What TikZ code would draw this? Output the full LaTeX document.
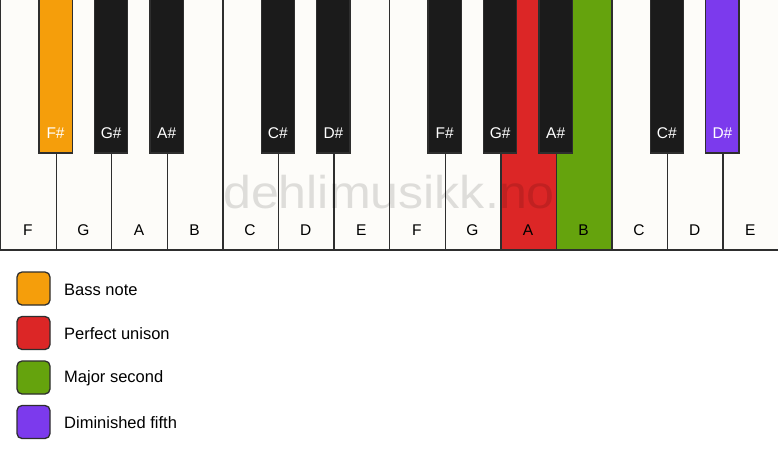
\documentclass[tikz,border=0pt]{standalone}
\usepackage{fontspec}
\setmainfont{Liberation Sans}
\definecolor{keywhite}{HTML}{FDFCF9}
\definecolor{keyblack}{HTML}{1B1B1B}
\definecolor{keyline}{HTML}{2E2E2E}
\definecolor{cbass}{HTML}{F59E0B}
\definecolor{cuni}{HTML}{DC2626}
\definecolor{csec}{HTML}{65A30D}
\definecolor{cfifth}{HTML}{7C3AED}
\tikzset{
  whitekey/.style={draw=keyline, line width=1.3pt, fill=keywhite},
  blackkey/.style={draw=keyline, line width=1.3pt, fill=keyblack},
  wlabel/.style={font=\fontsize{15.5}{15.5}\selectfont, text=black, inner sep=0pt},
  blabel/.style={font=\fontsize{15.5}{15.5}\selectfont, text=white, inner sep=0pt},
  legbox/.style={draw=keyline, line width=1.3pt, rounded corners=5pt, minimum width=33pt, minimum height=33pt, inner sep=0pt},
  legtext/.style={font=\fontsize{16.5}{16.5}\selectfont, anchor=west, inner sep=0pt},
}
\begin{document}
\begin{tikzpicture}[x=1pt,y=-1pt]
\useasboundingbox (0,0) rectangle (778,461);
\fill[white] (0,0) rectangle (778,461);
\def\w{55.5714}
% white keys
\foreach \i/\n/\c in {0/F/keywhite,1/G/keywhite,2/A/keywhite,3/B/keywhite,4/C/keywhite,5/D/keywhite,6/E/keywhite,7/F/keywhite,8/G/keywhite,9/A/cuni,10/B/csec,11/C/keywhite,12/D/keywhite,13/E/keywhite}{
  \path[whitekey, fill=\c] ({\i*\w+0.7},-1) rectangle ({(\i+1)*\w+0.7},250);
  \node[wlabel] (w\i) at ({(\i+0.5)*\w},230) {\n};
}
% watermark
\node[font=\fontsize{46}{46}\selectfont, text=black, text opacity=0.12, inner sep=0pt, anchor=base, xscale=1.09] (wm) at (389,208) {dehlimusikk.no};
% black keys
\foreach \b/\n/\c in {1/F\#/cbass,2/G\#/keyblack,3/A\#/keyblack,5/C\#/keyblack,6/D\#/keyblack,8/F\#/keyblack,9/G\#/keyblack,10/A\#/keyblack,12/C\#/keyblack,13/D\#/cfifth}{
  \path[blackkey, fill=\c] ({\b*\w-16.6},-1) rectangle ({\b*\w+16.6},153);
  \node[blabel] (b\b) at ({\b*\w},133) {\n};
}
% legend
\node[legbox, fill=cbass] (l1) at (33.5,288.5) {};
\node[legtext] (t1) at (64,289.5) {Bass note};
\node[legbox, fill=cuni] (l2) at (33.5,333) {};
\node[legtext] (t2) at (64,334) {Perfect unison};
\node[legbox, fill=csec] (l3) at (33.5,377.5) {};
\node[legtext] (t3) at (64,378.5) {Major second};
\node[legbox, fill=cfifth] (l4) at (33.5,422) {};
\node[legtext] (t4) at (64,423) {Diminished fifth};
\end{tikzpicture}
\end{document}
